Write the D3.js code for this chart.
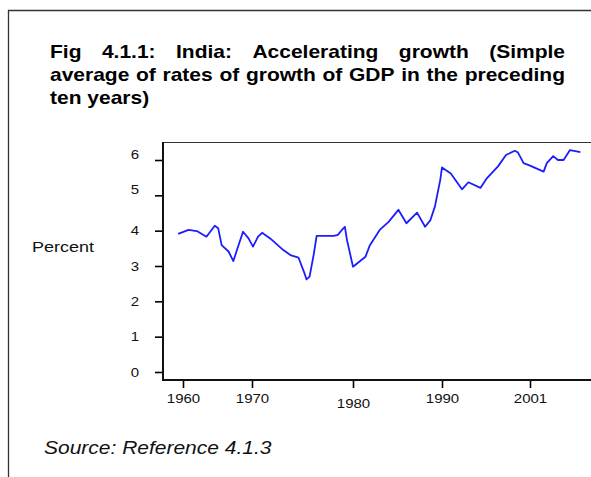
<!DOCTYPE html>
<html>
<head>
<meta charset="utf-8">
<script src="https://cdn.jsdelivr.net/npm/d3@7"></script>
<style>
    html, body { margin: 0; padding: 0; background: #fff; overflow: hidden; }
    svg { display: block; }
</style>
</head>
<body>
<svg id="chart" width="591" height="477"></svg>
<script>
// Ten-year average GDP growth
const years = [1959.3, 1960.8, 1962.0, 1963.4, 1964.6, 1965.1, 1965.6, 1966.6, 1967.3, 1967.9,
    1968.7, 1969.5, 1970.1, 1970.6, 1971.0, 1971.8, 1973.1, 1973.8, 1974.6, 1975.2,
    1975.4, 1975.7, 1976.1, 1976.4, 1978.1, 1978.5, 1978.9, 1979.2, 1979.4, 1980.0,
    1980.6, 1981.4, 1981.9, 1983.0, 1984.0, 1985.1, 1986.0, 1987.2, 1988.1, 1988.7,
    1989.2, 1989.8, 1990.0, 1991.1, 1992.5, 1993.3, 1994.8, 1995.6, 1997.0, 1998.0,
    1999.1, 1999.5, 2000.2, 2001.0, 2002.7, 2003.1, 2003.9, 2004.5, 2005.2, 2006.0, 2007.3];
const growth = [3.91, 4.02, 3.99, 3.83, 4.14, 4.07, 3.59, 3.41, 3.14, 3.50,
    3.97, 3.78, 3.55, 3.83, 3.94, 3.78, 3.45, 3.31, 3.24, 2.79,
    2.62, 2.70, 3.31, 3.85, 3.85, 3.88, 4.02, 4.11, 3.74, 2.98,
    3.10, 3.26, 3.59, 4.02, 4.25, 4.59, 4.21, 4.51, 4.11, 4.30,
    4.68, 5.43, 5.79, 5.62, 5.17, 5.37, 5.21, 5.48, 5.82, 6.14,
    6.26, 6.21, 5.91, 5.84, 5.67, 5.91, 6.11, 6.00, 6.00, 6.28, 6.22];

const xTickYears = [1960, 1970, 1980, 1990, 2001];
const yTicks = [0, 1, 2, 3, 4, 5, 6];

const titleLines = [
    "Fig 4.1.1: India: Accelerating growth (Simple",
    "average of rates of growth of GDP in the preceding",
    "ten years)"
];
const yLabel = "Percent";
const sourceNote = "Source: Reference 4.1.3";

const font = "'Liberation Sans', Arial, sans-serif";
const stretch = 1.2; // the scanned figure is wider than tall

const svg = d3.select("#chart");

// outer frame, open on the right and bottom
svg.append("path")
    .attr("d", "M8.5,477V10.5H591")
    .attr("fill", "none")
    .attr("stroke", "#333")
    .attr("stroke-width", 1.3);

// Title, justified like the report text
const titleLeft = 50, titleRight = 565;
const titleBase = [58, 81, 103.5];
titleLines.forEach((line, i) => {
    const g = svg.append("g")
        .attr("transform", `translate(${titleLeft},${titleBase[i]}) scale(${stretch},1)`)
        .attr("font-family", font)
        .attr("font-size", 17.5)
        .attr("font-weight", "bold")
        .attr("fill", "#000");
    const words = line.split(" ");
    const nodes = words.map(w => g.append("text").text(w));
    const widths = nodes.map(n => n.node().getComputedTextLength());
    const avail = (titleRight - titleLeft) / stretch;
    const last = i === titleLines.length - 1;
    const gap = last ? 17.5 * 0.278 : (avail - d3.sum(widths)) / (words.length - 1);
    let cx = 0;
    nodes.forEach((n, j) => {
        n.attr("x", cx);
        cx += widths[j] + gap;
    });
});

// Plot area
const plot = { left: 163, top: 142, bottom: 380, right: 591 };

const x = d3.scaleLinear()
    .domain(xTickYears)
    .range([183, 252, 353, 442, 530]);

const y = d3.scaleLinear()
    .domain([0, 6])
    .range([372, 160]);

// top border of the plot box
svg.append("line")
    .attr("x1", plot.left).attr("x2", plot.right)
    .attr("y1", plot.top + 0.5).attr("y2", plot.top + 0.5)
    .attr("stroke", "#333")
    .attr("stroke-width", 1.2);

// y axis
const yAxis = svg.append("g")
    .attr("transform", `translate(${plot.left},0)`)
    .call(d3.axisLeft(y).tickValues(yTicks).tickSize(8).tickPadding(12).tickFormat(d3.format("d")));
yAxis.select(".domain").remove();
yAxis.attr("font-family", font).attr("font-size", 12.5);
yAxis.selectAll(".tick line").attr("stroke", "#000").attr("stroke-width", 1.6);
yAxis.selectAll(".tick text")
    .attr("fill", "#111")
    .attr("y", d => d >= 5 ? -6 : 0)
    .attr("transform", `scale(${stretch},1)`);

// x axis
const xAxis = svg.append("g")
    .attr("transform", `translate(0,${plot.bottom})`)
    .call(d3.axisBottom(x).tickValues(xTickYears).tickSize(8).tickPadding(6).tickFormat(d3.format("d")));
xAxis.select(".domain").remove();
xAxis.attr("font-family", font).attr("font-size", 12.5);
xAxis.selectAll(".tick line").attr("stroke", "#000").attr("stroke-width", 1.6);
xAxis.selectAll(".tick text")
    .attr("fill", "#111")
    .attr("y", d => d === 1980 ? 19 : 14)
    .attr("transform", `scale(${stretch},1)`);

// axis lines (left + bottom)
svg.append("path")
    .attr("d", `M${plot.left},${plot.top}V${plot.bottom}H${plot.right}`)
    .attr("fill", "none")
    .attr("stroke", "#111")
    .attr("stroke-width", 2);

// the series
const line = d3.line()
    .x(d => x(d[0]))
    .y(d => y(d[1]));

svg.append("path")
    .datum(d3.zip(years, growth))
    .attr("d", line)
    .attr("fill", "none")
    .attr("stroke", "#1c1cff")
    .attr("stroke-width", 1.8)
    .attr("stroke-linejoin", "round");

// y label
svg.append("text")
    .attr("transform", `translate(32,252) scale(${stretch},1)`)
    .attr("font-family", font)
    .attr("font-size", 15)
    .attr("fill", "#111")
    .text(yLabel);

// source note
svg.append("text")
    .attr("transform", `translate(44,454) scale(${stretch},1)`)
    .attr("font-family", font)
    .attr("font-size", 17.5)
    .attr("font-style", "italic")
    .attr("fill", "#111")
    .text(sourceNote);
</script>
</body>
</html>
